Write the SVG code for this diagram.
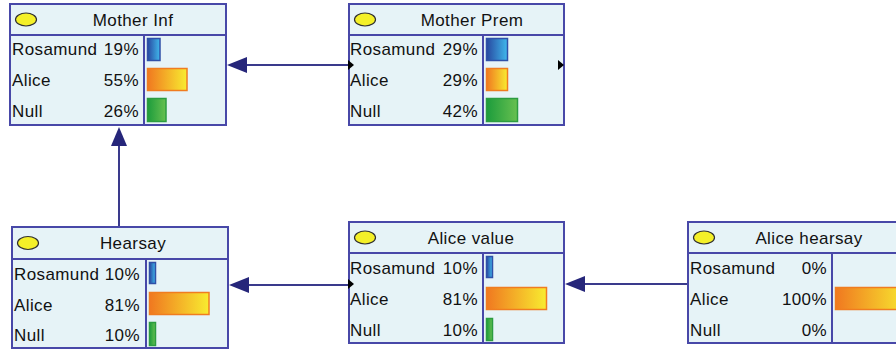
<svg xmlns="http://www.w3.org/2000/svg" width="896" height="352" viewBox="0 0 896 352">
<defs>
<linearGradient id="gBlue" x1="0" x2="1" y1="0" y2="0"><stop offset="0" stop-color="#2848a0"/><stop offset="1" stop-color="#40b8ec"/></linearGradient>
<linearGradient id="gOrange" x1="0" x2="1" y1="0" y2="0"><stop offset="0" stop-color="#f07820"/><stop offset="1" stop-color="#f8ec30"/></linearGradient>
<linearGradient id="gGreen" x1="0" x2="1" y1="0" y2="0"><stop offset="0" stop-color="#1c9c3c"/><stop offset="1" stop-color="#68c050"/></linearGradient>
</defs>
<style>
.box{fill:#e6f3f7;stroke:#4848a8;stroke-width:2}
.sep{stroke:#4848a8;stroke-width:2;fill:none}
.ell{fill:#f4f028;stroke:#303030;stroke-width:1.2}
text{font-family:"Liberation Sans",Arial,sans-serif;font-size:17px;fill:#111;letter-spacing:0.4px}
.t{text-anchor:middle}
.p{text-anchor:end}
.rb{fill:url(#gBlue);stroke:#3050a8;stroke-width:1.5}
.ab{fill:url(#gOrange);stroke:#f07c20;stroke-width:1.5}
.nb{fill:url(#gGreen);stroke:#2c9c40;stroke-width:1.5}
.ln{stroke:#3a3a8c;stroke-width:2;fill:none}
.ah{fill:#26267a}
.sm{fill:#000}
</style>
<g id="connectors">
<line class="ln" x1="349" y1="65" x2="240" y2="65"/>
<polygon class="ah" points="227,65 247,57 247,73"/>
<line class="ln" x1="119" y1="227" x2="119" y2="140"/>
<polygon class="ah" points="119,127 111,146 127,146"/>
<line class="ln" x1="349" y1="285" x2="240" y2="285"/>
<polygon class="ah" points="229,285 249,277 249,293"/>
<line class="ln" x1="688" y1="284" x2="578" y2="284"/>
<polygon class="ah" points="565,284 585,276 585,292"/>
</g>
<g id="mother-inf">
<rect class="box" x="10" y="4" width="216" height="121"/>
<line class="sep" x1="10" y1="35" x2="226" y2="35"/>
<line class="sep" x1="144" y1="35" x2="144" y2="125"/>
<ellipse class="ell" cx="26" cy="19.5" rx="10.5" ry="6.5"/>
<text class="t" x="133" y="26">Mother Inf</text>
<text x="12" y="55">Rosamund</text><text class="p" x="139" y="55">19%</text>
<text x="12" y="86">Alice</text><text class="p" x="139" y="86">55%</text>
<text x="12" y="117">Null</text><text class="p" x="139" y="117">26%</text>
<rect class="rb" x="147.5" y="38.5" width="12.5" height="22"/>
<rect class="ab" x="147.5" y="68.5" width="39.5" height="22"/>
<rect class="nb" x="147.5" y="98.5" width="18.5" height="23"/>
</g>
<g id="mother-prem">
<rect class="box" x="349" y="4" width="215" height="121"/>
<line class="sep" x1="349" y1="35" x2="564" y2="35"/>
<line class="sep" x1="483" y1="35" x2="483" y2="125"/>
<ellipse class="ell" cx="365" cy="19.5" rx="10.5" ry="6.5"/>
<text class="t" x="472" y="26">Mother Prem</text>
<text x="350" y="55">Rosamund</text><text class="p" x="478" y="55">29%</text>
<text x="350" y="86">Alice</text><text class="p" x="478" y="86">29%</text>
<text x="350" y="117">Null</text><text class="p" x="478" y="117">42%</text>
<rect class="rb" x="486.5" y="38.5" width="21" height="22"/>
<rect class="ab" x="486.5" y="68.5" width="21" height="22"/>
<rect class="nb" x="486.5" y="98.5" width="31" height="23"/>
<polygon class="sm" points="348,60 354,65 348,70"/>
<polygon class="sm" points="558,60 564,65 558,70"/>
</g>
<g id="hearsay">
<rect class="box" x="12" y="227" width="216" height="121"/>
<line class="sep" x1="12" y1="259" x2="228" y2="259"/>
<line class="sep" x1="146" y1="259" x2="146" y2="348"/>
<ellipse class="ell" cx="28" cy="243" rx="10.5" ry="6.5"/>
<text class="t" x="133" y="249">Hearsay</text>
<text x="14" y="280">Rosamund</text><text class="p" x="140" y="280">10%</text>
<text x="14" y="311">Alice</text><text class="p" x="140" y="311">81%</text>
<text x="14" y="341">Null</text><text class="p" x="140" y="341">10%</text>
<rect class="rb" x="149.5" y="262.5" width="6" height="21"/>
<rect class="ab" x="149.5" y="292.5" width="59.5" height="22"/>
<rect class="nb" x="149.5" y="322.5" width="6" height="23"/>
</g>
<g id="alice-value">
<rect class="box" x="349" y="222" width="215" height="121"/>
<line class="sep" x1="349" y1="253" x2="564" y2="253"/>
<line class="sep" x1="483" y1="253" x2="483" y2="343"/>
<ellipse class="ell" cx="365" cy="237.5" rx="10.5" ry="6.5"/>
<text class="t" x="471" y="244">Alice value</text>
<text x="350" y="274">Rosamund</text><text class="p" x="478" y="274">10%</text>
<text x="350" y="305">Alice</text><text class="p" x="478" y="305">81%</text>
<text x="350" y="336">Null</text><text class="p" x="478" y="336">10%</text>
<rect class="rb" x="486.5" y="256.5" width="6" height="21"/>
<rect class="ab" x="486.5" y="287.5" width="60" height="22"/>
<rect class="nb" x="486.5" y="318.5" width="6" height="22"/>
<polygon class="sm" points="348,279 354,284 348,289"/>
</g>
<g id="alice-hearsay">
<rect class="box" x="688" y="222" width="216" height="121"/>
<line class="sep" x1="688" y1="253" x2="904" y2="253"/>
<line class="sep" x1="832" y1="253" x2="832" y2="343"/>
<ellipse class="ell" cx="704" cy="237.5" rx="10.5" ry="6.5"/>
<text class="t" x="809" y="244">Alice hearsay</text>
<text x="690" y="274">Rosamund</text><text class="p" x="827" y="274">0%</text>
<text x="690" y="305">Alice</text><text class="p" x="827" y="305">100%</text>
<text x="690" y="336">Null</text><text class="p" x="827" y="336">0%</text>
<rect class="ab" x="835.5" y="287.5" width="74" height="22"/>
</g>
</svg>
